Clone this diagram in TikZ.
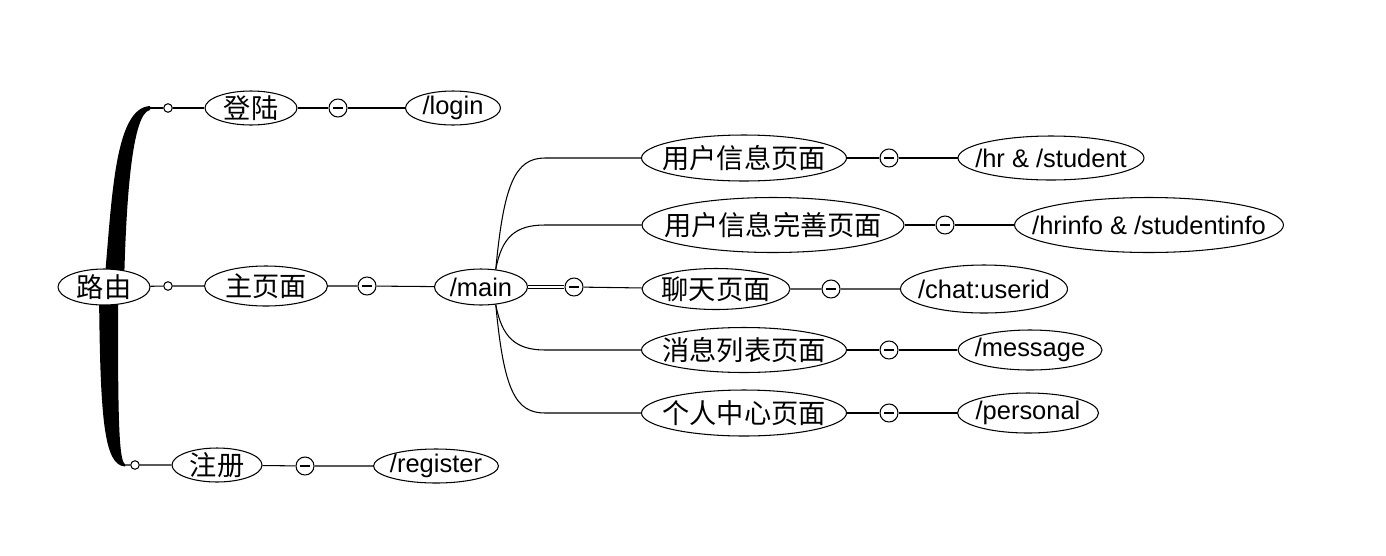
\documentclass[tikz,border=0pt]{standalone}
\usepackage{fontspec}
\setmainfont{Liberation Sans}
\newfontfamily\cjk{Noto Sans CJK SC}
\usetikzlibrary{shapes.geometric}
\newcommand{\zh}[1]{{\cjk\fontsize{15.5}{18}\selectfont #1}}

\begin{document}
\begin{tikzpicture}[x=0.02cm, y=-0.02cm, line width=0.6pt,
  font=\fontsize{14.5}{17}\selectfont,
  topic/.style={ellipse, draw, fill=white, inner sep=0pt, minimum height=0.7cm},
  knob/.style={circle, draw, fill=white, inner sep=0pt, minimum size=0.17cm},
  fold/.style={circle, draw, fill=white, inner sep=0pt, minimum size=0.36cm,
    path picture={\draw ([xshift=-2.6pt]path picture bounding box.center) -- ([xshift=2.6pt]path picture bounding box.center);}}]
  \useasboundingbox (0,0) rectangle (1386,555);

  \fill (104,287) .. controls (112,200) and (114,108) .. (150,106) -- (150,110) .. controls (132,113) and (126,200) .. (124,287) -- cycle;
  \fill (99,287) .. controls (100,420) and (104,465) .. (125,466.5) -- (125,464) .. controls (118,461) and (118,400) .. (118,287) -- cycle;
  \coordinate (top) at (150,108);
  \coordinate (bot) at (125,465);

  \node[topic, minimum width=1.84cm, minimum height=0.72cm, label=center:{\zh{路由}}] (luyou) at (104,287) {};
  \node[topic, minimum width=1.84cm, minimum height=0.68cm, label=center:{\zh{登陆}}] (denglu) at (251,108) {};
  \node[topic, minimum width=2.46cm, minimum height=0.8cm, label=center:{\zh{主页面}}] (zhuye) at (266,286) {};
  \node[topic, minimum width=1.8cm, minimum height=0.68cm, label=center:{\zh{注册}}] (zhuce) at (217,465) {};
  \node[topic, minimum width=1.9cm, minimum height=0.68cm, label=center:{/login}] (login) at (453,108) {};
  \node[topic, minimum width=1.86cm, minimum height=0.72cm, label=center:{/main}] (main) at (481,287) {};
  \node[topic, minimum width=2.5cm, minimum height=0.68cm, label=center:{/register}] (register) at (436,466) {};

  \node[topic, minimum width=4.1cm, minimum height=0.92cm, label=center:{\zh{用户信息页面}}] (yhxx) at (744,158) {};
  \node[topic, minimum width=5.24cm, minimum height=1.1cm, label=center:{\zh{用户信息完善页面}}] (yhws) at (773,225) {};
  \node[topic, minimum width=2.96cm, minimum height=0.82cm, label=center:{\zh{聊天页面}}] (chat) at (716,289) {};
  \node[topic, minimum width=4.1cm, minimum height=0.9cm, label=center:{\zh{消息列表页面}}] (xxlb) at (744,350) {};
  \node[topic, minimum width=4.1cm, minimum height=0.92cm, label=center:{\zh{个人中心页面}}] (grzx) at (744,413) {};

  \node[topic, minimum width=3.72cm, minimum height=0.88cm, label=center:{/hr \& /student}] (hrst) at (1051,158) {};
  \node[topic, minimum width=5.38cm, minimum height=1.1cm, label=center:{/hrinfo \& /studentinfo}] (hrinfo) at (1149,225) {};
  \node[topic, minimum width=3.34cm, minimum height=0.96cm, label=center:{/chat:userid}] (userid) at (984,289) {};
  \node[topic, minimum width=2.88cm, minimum height=0.8cm, label=center:{/message}] (message) at (1030,350) {};
  \node[topic, minimum width=2.82cm, minimum height=0.8cm, label=center:{/personal}] (personal) at (1028,413) {};

  \node[knob] (k1) at (168,108) {};
  \node[knob] (k2) at (168,286) {};
  \node[knob] (k3) at (135,465) {};
  \node[fold] (f1) at (338,108) {};
  \node[fold] (f2) at (367,286) {};
  \node[fold] (f3) at (305,466) {};
  \node[fold] (f4) at (574,287) {};
  \node[fold] (f5) at (889,158) {};
  \node[fold] (f6) at (945,225) {};
  \node[fold] (f7) at (831,289) {};
  \node[fold] (f8) at (889,350) {};
  \node[fold] (f9) at (889,413) {};

  \draw[line width=1.2pt] (top) -- (k1);
  \draw (k1) -- (denglu) (denglu) -- (f1) -- (login);
  \draw (luyou) -- (k2) -- (zhuye) -- (f2) -- (main);
  \draw (bot) -- (k3) -- (zhuce) -- (f3) -- (register);
  \draw[double, double distance=1.2pt, line width=0.5pt] (main) -- (f4);
  \draw (f4) -- (chat) -- (f7) -- (userid);
  \draw (main.50) .. controls +(8,-85) and +(-30,0) .. (545,0 |- yhxx) -- (yhxx);
  \draw (main.50) .. controls +(6,-32) and +(-30,0) .. (545,0 |- yhws) -- (yhws);
  \draw (main.-50) .. controls +(6,32) and +(-30,0) .. (545,0 |- xxlb) -- (xxlb);
  \draw (main.-50) .. controls +(8,85) and +(-30,0) .. (545,0 |- grzx) -- (grzx);
  \draw (yhxx) -- (f5) -- (hrst);
  \draw (yhws) -- (f6) -- (hrinfo);
  \draw (xxlb) -- (f8) -- (message);
  \draw (grzx) -- (f9) -- (personal);
\end{tikzpicture}
\end{document}
